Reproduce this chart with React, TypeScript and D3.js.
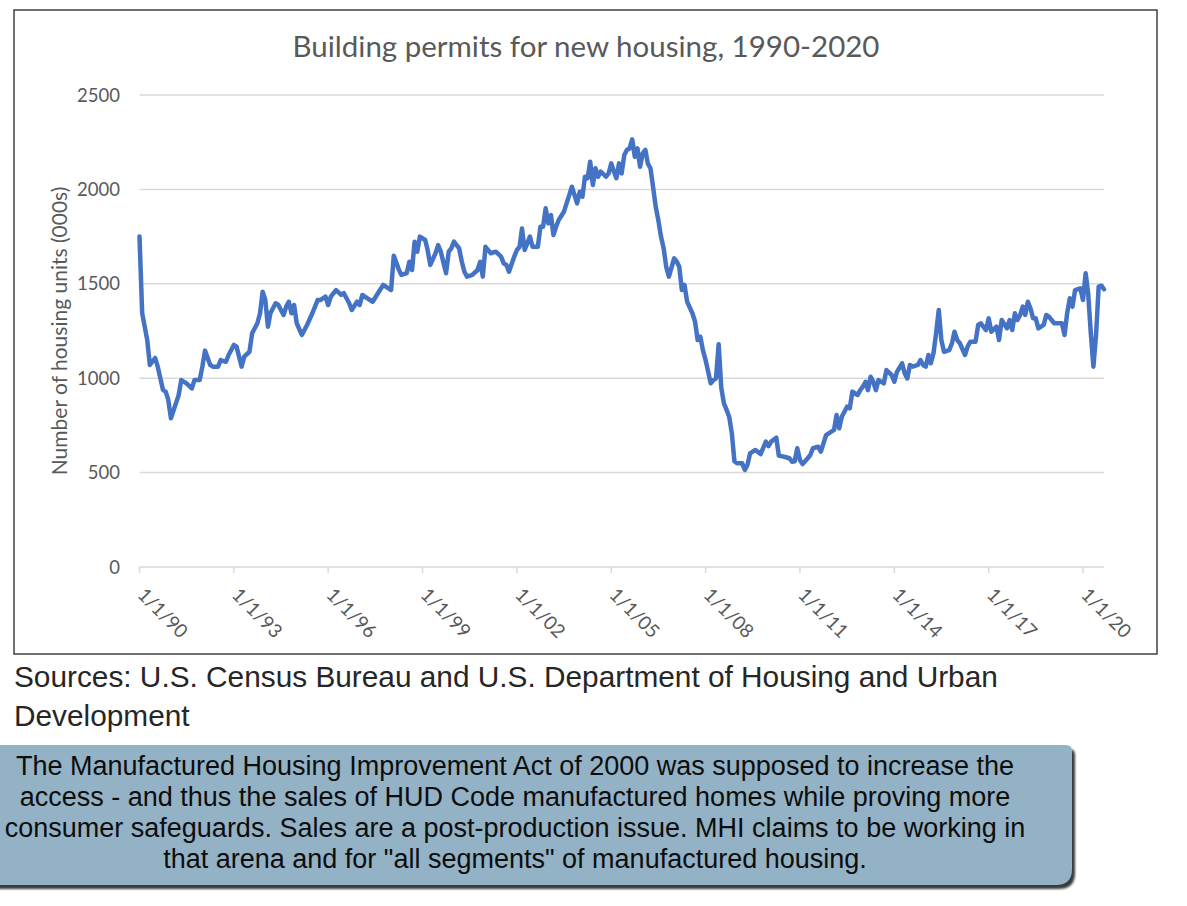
import React from "react";
import * as d3 from "d3";

const chartTitle = "Building permits for new housing, 1990-2020";
const yAxisTitle = "Number of housing units (000s)";
const yTicks = [0, 500, 1000, 1500, 2000, 2500];
const xTickDates = ["1990-01", "1993-01", "1996-01", "1999-01", "2002-01", "2005-01", "2008-01", "2011-01", "2014-01", "2017-01", "2020-01"];
const sourceLines = [
  "Sources: U.S. Census Bureau and U.S. Department of Housing and Urban",
  "Development",
];
const noteLines = [
  "The Manufactured Housing Improvement Act of 2000 was supposed to increase the",
  "access - and thus the sales of HUD Code manufactured homes while proving more",
  "consumer safeguards. Sales are a post-production issue. MHI claims to be working in",
  "that arena and for \"all segments\" of manufactured housing.",
];

const months = [
  "1990-01","1990-02","1990-04","1990-05","1990-07","1990-08","1990-10","1990-11","1990-12",
  "1991-01","1991-03","1991-04","1991-05","1991-07","1991-09","1991-10","1991-12",
  "1992-01","1992-02","1992-04","1992-05","1992-07","1992-08","1992-10","1992-11",
  "1993-01","1993-02","1993-04","1993-05","1993-07","1993-08","1993-10","1993-11","1993-12",
  "1994-01","1994-02","1994-03","1994-05","1994-06","1994-08","1994-09","1994-10","1994-11","1994-12",
  "1995-01","1995-03","1995-05","1995-07","1995-09","1995-10","1995-12",
  "1996-01","1996-02","1996-04","1996-06","1996-07","1996-09","1996-10","1996-12",
  "1997-01","1997-02","1997-04","1997-06","1997-08","1997-10","1997-11",
  "1998-01","1998-02","1998-04","1998-05","1998-07","1998-08","1998-09","1998-10","1998-11","1998-12",
  "1999-02","1999-03","1999-04","1999-06","1999-07","1999-08","1999-10","1999-11","1999-12",
  "2000-01","2000-03","2000-04","2000-05","2000-06","2000-08","2000-10","2000-11","2000-12",
  "2001-01","2001-03","2001-05","2001-07","2001-08","2001-09","2001-10","2001-12",
  "2002-01","2002-02","2002-03","2002-04","2002-05","2002-06","2002-07","2002-09","2002-10","2002-11","2002-12",
  "2003-01","2003-02","2003-03","2003-04","2003-05","2003-07","2003-08","2003-09","2003-10","2003-11","2003-12",
  "2004-01","2004-02","2004-03","2004-04","2004-05","2004-06","2004-07","2004-08","2004-09","2004-11","2004-12",
  "2005-01","2005-02","2005-03","2005-04","2005-05","2005-06","2005-07","2005-08","2005-09","2005-10","2005-11","2005-12",
  "2006-01","2006-02","2006-03","2006-04","2006-05","2006-06","2006-07","2006-08","2006-09","2006-10","2006-11",
  "2007-01","2007-02","2007-03","2007-04","2007-05","2007-06","2007-08","2007-09","2007-10","2007-11","2007-12",
  "2008-01","2008-03","2008-04","2008-05","2008-06","2008-07","2008-08","2008-09","2008-10","2008-11","2008-12",
  "2009-01","2009-03","2009-04","2009-05","2009-06","2009-08","2009-10","2009-12",
  "2010-01","2010-02","2010-04","2010-05","2010-07","2010-09","2010-10","2010-11","2010-12",
  "2011-01","2011-02","2011-04","2011-05","2011-06","2011-08","2011-09","2011-11","2011-12",
  "2012-02","2012-03","2012-04","2012-05","2012-07","2012-08","2012-09","2012-11","2012-12",
  "2013-01","2013-02","2013-03","2013-04","2013-05","2013-06","2013-07","2013-09","2013-10","2013-12",
  "2014-01","2014-02","2014-04","2014-05","2014-06","2014-07","2014-08","2014-10","2014-11","2014-12",
  "2015-01","2015-02","2015-03","2015-04","2015-05","2015-06","2015-07","2015-08","2015-10","2015-11","2015-12",
  "2016-01","2016-02","2016-04","2016-05","2016-06","2016-08","2016-09","2016-10","2016-12",
  "2017-01","2017-02","2017-04","2017-05","2017-06","2017-08","2017-09","2017-10","2017-11","2017-12",
  "2018-01","2018-02","2018-03","2018-04","2018-05","2018-06","2018-07","2018-08","2018-10","2018-11","2018-12",
  "2019-02","2019-04","2019-05","2019-06","2019-07","2019-08","2019-09","2019-10","2019-12",
  "2020-01","2020-02","2020-03","2020-04","2020-05","2020-06","2020-07","2020-08","2020-09",
];

const permits = [
  1750,1345,1202,1070,1107,1061,937,929,885,
  788,868,911,990,973,946,990,990,
  1061,1146,1070,1061,1061,1096,1087,1123,
  1176,1167,1061,1114,1140,1238,1291,1344,1458,
  1414,1273,1344,1397,1388,1335,1379,1405,1344,1388,
  1291,1229,1282,1344,1414,1414,1432,
  1388,1432,1467,1441,1450,1397,1361,1405,
  1388,1441,1423,1405,1450,1494,1485,
  1467,1648,1575,1547,1556,1617,1573,1723,1670,1750,
  1732,1679,1600,1662,1705,1670,1556,1670,1688,
  1723,1688,1617,1564,1538,1547,1573,1617,1538,
  1696,1662,1670,1644,1608,1600,1564,1644,
  1679,1696,1793,1679,1714,1750,1696,1696,1802,1802,1900,
  1820,1864,1758,1802,1838,1882,1926,1970,2014,1970,1926,
  1988,1961,2067,2059,2147,2023,2112,2067,2094,2067,2085,
  2138,2094,2059,2138,2085,2182,2209,2217,2265,2173,2217,2120,
  2191,2209,2138,2112,2014,1908,1838,1750,1688,1590,1538,
  1635,1617,1590,1467,1494,1405,1344,1299,1202,1220,1149,
  1096,973,990,999,1180,950,867,832,796,708,560,
  549,549,514,540,602,620,598,664,
  640,664,685,590,584,576,558,560,629,
  567,545,576,593,629,637,611,699,708,
  726,805,735,796,849,840,929,911,937,
  955,981,937,1008,981,937,990,973,1043,1017,
  981,1034,1079,1026,999,1070,1061,1070,1096,1070,
  1061,1123,1079,1132,1238,1361,1202,1140,1149,1185,1246,
  1202,1185,1123,1167,1193,1193,1282,1291,1255,
  1317,1246,1273,1202,1308,1264,1308,1255,1344,1308,
  1335,1379,1335,1405,1370,1317,1317,1264,1282,1335,1326,
  1291,1291,1291,1229,1344,1423,1379,1467,1476,
  1414,1556,1450,1238,1061,1230,1485,1490,1471,
];

const W = 1187;
const H = 906;
const plot = { left: 139.5, right: 1104, top: 95, bottom: 567 };

export default function App() {
  const parse = d3.timeParse("%Y-%m");
  const fmt = d3.timeFormat("%-m/%-d/%y");
  const data = months.map((m, i) => ({ date: parse(m) as Date, value: permits[i] }));

  const x = d3
    .scaleTime()
    .domain([data[0].date, data[data.length - 1].date])
    .range([plot.left, plot.right]);
  const y = d3.scaleLinear().domain([0, 2500]).range([plot.bottom, plot.top]);

  const line = d3
    .line<{ date: Date; value: number }>()
    .x((d) => x(d.date))
    .y((d) => y(d.value));

  const tickDates = xTickDates.map((d) => parse(d) as Date);
  const axisFont = "Lato, 'Open Sans', sans-serif";
  const labelColor = "#595959";

  const boxTop = 745;
  const boxBottom = 885;
  const boxRight = 1072;
  const boxPath = `M -10 ${boxTop} L ${boxRight - 6} ${boxTop} Q ${boxRight} ${boxTop} ${boxRight} ${boxTop + 6} L ${boxRight} ${boxBottom - 16} Q ${boxRight} ${boxBottom} ${boxRight - 16} ${boxBottom} L -10 ${boxBottom} Z`;

  return (
    <div style={{ position: "absolute", left: 0, top: 0 }}>
      <svg width={W} height={H} style={{ display: "block" }}>
        <defs>
          <filter id="shadowBlur" x="-5%" y="-20%" width="110%" height="140%">
            <feGaussianBlur stdDeviation="1.2" />
          </filter>
        </defs>
        <rect x={0} y={0} width={W} height={H} fill="#ffffff" />
        <rect x={14} y={10} width={1143} height={644} fill="#ffffff" stroke="#404040" strokeWidth={1.5} />
        <text
          x={586}
          y={57}
          textAnchor="middle"
          fontFamily={axisFont}
          fontSize={29.5}
          fill={labelColor}
        >
          {chartTitle}
        </text>

        {yTicks.map((t) => (
          <line
            key={"g" + t}
            x1={plot.left}
            x2={plot.right}
            y1={y(t)}
            y2={y(t)}
            stroke="#d9d9d9"
            strokeWidth={1.5}
          />
        ))}
        {tickDates.map((d, i) => (
          <line
            key={"t" + i}
            x1={x(d)}
            x2={x(d)}
            y1={plot.bottom}
            y2={plot.bottom + 6}
            stroke="#d9d9d9"
            strokeWidth={1.5}
          />
        ))}
        {yTicks.map((t) => (
          <text
            key={"yl" + t}
            x={120}
            y={y(t) + 6.5}
            textAnchor="end"
            fontFamily={axisFont}
            fontSize={18.5}
            fill={labelColor}
          >
            {t}
          </text>
        ))}
        <text
          transform={`translate(67, ${(plot.top + plot.bottom) / 2}) rotate(-90)`}
          textAnchor="middle"
          fontFamily={axisFont}
          fontSize={21}
          fill={labelColor}
        >
          {yAxisTitle}
        </text>
        {tickDates.map((d, i) => (
          <text
            key={"xl" + i}
            transform={`translate(${x(d) - 3}, ${plot.bottom + 29}) rotate(45)`}
            fontFamily={axisFont}
            fontSize={19}
            fill={labelColor}
          >
            {fmt(d)}
          </text>
        ))}

        <path
          d={line(data) || ""}
          fill="none"
          stroke="#4472c4"
          strokeWidth={4.5}
          strokeLinejoin="round"
          strokeLinecap="round"
        />

        {sourceLines.map((s, i) => (
          <text
            key={"s" + i}
            x={14}
            y={687 + i * 39}
            fontFamily="'Liberation Sans', Arial, sans-serif"
            fontSize={29.8}
            fill="#262626"
          >
            {s}
          </text>
        ))}

        <path d={boxPath} transform="translate(3,4)" fill="#3a3a3a" filter="url(#shadowBlur)" />
        <path d={boxPath} fill="#93b2c5" />
        {noteLines.map((s, i) => (
          <text
            key={"n" + i}
            x={515}
            y={775 + i * 31}
            textAnchor="middle"
            fontFamily="'Liberation Sans', Arial, sans-serif"
            fontSize={27}
            fill="#0d0d0d"
          >
            {s}
          </text>
        ))}
      </svg>
    </div>
  );
}
